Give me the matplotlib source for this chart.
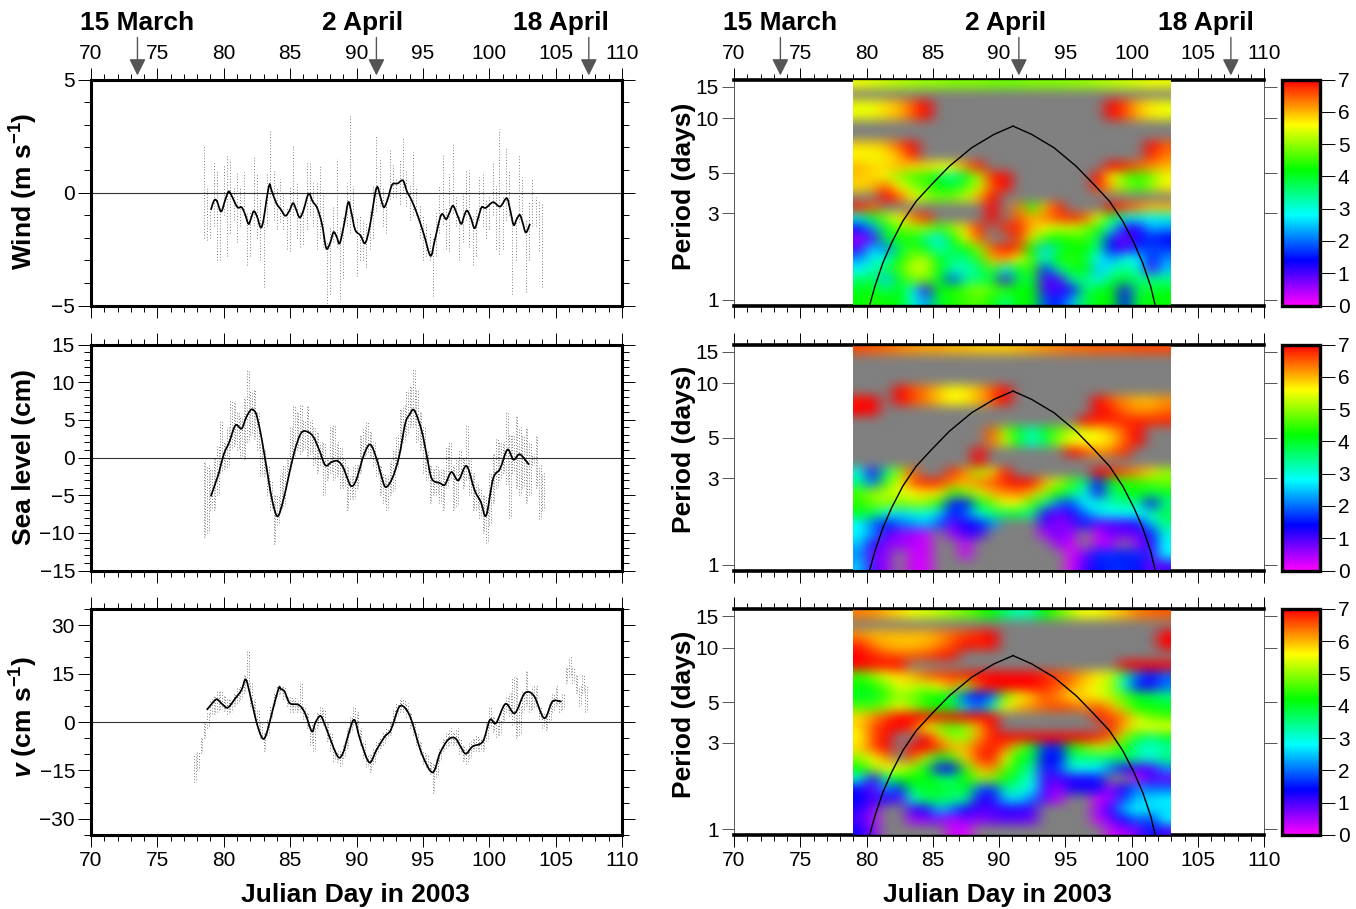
# -*- coding: utf-8 -*-
"""
Wind, sea level and v series with their wavelet spectra, 2003.
"""

import matplotlib

matplotlib.use("Agg")
import matplotlib.pyplot as plt
import numpy as np
from matplotlib.colors import LinearSegmentedColormap, Normalize
from matplotlib.patches import PathPatch
from matplotlib.path import Path
from matplotlib.ticker import FixedLocator, MultipleLocator

n = np.nan

################## Data ##################

wind_line_days = [79.03, 79.2, 79.34, 79.5, 79.8, 80.1, 80.3, 80.42, 80.6, 81.03, 81.34, 81.6, 81.86, 82.05, 82.26, 82.5, 82.79,
                  83.0, 83.2, 83.44, 83.6, 83.96, 84.3, 84.64, 84.95, 85.22, 85.45, 85.72, 86.0, 86.39, 86.7, 87.04, 87.4,
                  87.72, 88.0, 88.27, 88.5, 88.74, 89.1, 89.38, 89.6, 89.9, 90.3, 90.65, 91.0, 91.5, 91.8, 92.06, 92.35,
                  92.68, 93.1, 93.5, 93.8, 94.13, 94.6, 95.1, 95.58, 95.9, 96.38, 96.75, 97.0, 97.27, 97.6, 97.89, 98.1,
                  98.32, 98.6, 98.9, 99.2, 99.43, 99.74, 100.29, 100.82, 101.31, 101.55, 101.83, 102.05, 102.3, 102.5, 102.76, 103.07]
wind_line = [-0.77, -0.45, -0.32, -0.4, -0.84, -0.35, -0.02, 0.04, -0.15, -0.65, -0.65, -0.95, -1.39, -1.15, -0.83, -1.05, -1.55,
             -1.2, -0.4, 0.34, 0.1, -0.47, -0.75, -1.03, -0.8, -0.47, -0.75, -1.11, -0.8, -0.06, -0.4, -0.69, -1.4,
             -2.46, -2.25, -1.76, -1.95, -2.24, -1.3, -0.43, -0.85, -1.65, -1.9, -2.24, -1.5, 0.19, -0.2, -0.65, -0.3,
             0.34, 0.4, 0.53, 0.05, -0.32, -1.0, -1.9, -2.8, -2.1, -0.99, -1.18, -0.9, -0.59, -1.0, -1.39, -1.05,
             -0.8, -1.1, -1.58, -1.05, -0.65, -0.68, -0.43, -0.62, -0.25, -0.7, -1.43, -1.2, -0.99, -1.3, -1.77, -1.39]

sea_line_days = [79.03, 79.4, 79.65, 80.0, 80.42, 80.88, 81.34, 81.65, 81.9, 82.11, 82.35, 82.52, 82.88, 83.34, 83.65, 84.05, 84.48,
                 84.88, 85.35, 85.8, 86.2, 86.73, 87.2, 87.66, 88.12, 88.58, 88.98, 89.3, 89.6, 89.97, 90.59, 91.05, 91.51,
                 91.85, 92.19, 92.68, 93.2, 93.67, 94.0, 94.35, 94.9, 95.3, 95.67, 96.29, 96.66, 97.15, 97.67, 98.29, 98.9,
                 99.37, 99.77, 100.29, 100.82, 101.37, 101.83, 102.3, 103.0]
sea_line = [-5.16, -3.26, -1.93, 0.42, 2.06, 4.28, 3.83, 5.16, 6.0, 6.4, 6.1, 5.3, 2.28, -2.59, -5.69, -7.82, -5.69,
            -2.59, 0.95, 3.17, 3.48, 2.81, 0.95, -1.04, -0.6, -0.47, -1.26, -2.7, -3.79, -3.03, 0.51, 1.71, -0.16,
            -2.3, -3.92, -2.81, 0.07, 4.5, 5.7, 6.27, 3.61, 0.2, -2.81, -3.39, -3.61, -1.93, -3.03, -1.13, -4.36,
            -5.91, -7.69, -2.81, -1.48, 1.04, -0.29, 0.42, -0.95]

v_line_days = [78.72, 79.03, 79.3, 79.49, 79.7, 79.95, 80.32, 80.88, 81.34, 81.65, 81.96, 82.42, 82.8, 83.04, 83.25, 83.5, 84.11,
               84.3, 84.58, 84.98, 85.65, 86.12, 86.64, 86.9, 87.26, 87.5, 87.81, 88.58, 88.98, 89.35, 89.82, 90.28, 90.96,
               91.51, 92.13, 92.59, 93.2, 93.67, 94.13, 94.9, 95.73, 96.29, 96.9, 97.43, 97.83, 98.23, 98.75, 99.52, 100.05,
               100.51, 101.22, 101.93, 102.67, 103.37, 104.14, 104.76, 105.44]
v_line = [3.76, 5.3, 6.6, 7.05, 6.3, 5.3, 4.48, 7.36, 9.93, 13.2, 8.9, 0.67, -4.2, -5.2, -3.2, 0.67, 10.14,
          10.2, 9.42, 5.81, 5.3, 2.73, -2.93, -0.2, 1.9, 0.4, -2.93, -10.65, -9.62, -4.48, 0.67, -5.5, -12.5,
          -8.6, -4.48, -2.42, 4.58, 4.27, 0.67, -9.62, -15.6, -9.62, -5.5, -5.0, -7.56, -9.83, -7.56, -6.02, 0.67,
          -0.36, 5.6, 2.73, 8.9, 8.08, 1.18, 6.33, 6.33]

# (low, high) of the hourly dots in each quarter of a day
wind_start = 78.5
wind_dots = [(-2.0, 2.1), (-2.1, 0.3), (-2.0, -0.8), (-1.5, 1.4), (-3.0, 1.0), (-3.0, -0.6), (-1.0, 1.2), (-2.8, 1.6), (-1.8, 1.5),
             (-1.2, 0.3), (-2.2, 0.9), (-1.5, 0.2), (-1.0, 0.9), (-3.2, -0.8), (-2.8, -0.8), (-1.5, 1.6), (-2.0, 0.8), (-3.0, -0.3),
             (-4.2, -1.2), (-1.5, 0.8), (-0.2, 2.7), (-1.2, 1.0), (-1.6, 0.2), (-1.3, 0.6), (-1.6, 0.0), (-2.5, -0.7), (-2.6, 0.3),
             (-1.0, 2.1), (-2.0, 0.4), (-2.4, -0.8), (-2.3, -0.6), (-1.6, 1.3), (-1.0, 1.3), (-1.5, 0.4), (-2.5, 0.5), (-2.0, 1.2),
             (-2.4, 0.1), (-5.0, -2.2), (-4.5, -1.5), (-2.2, -0.6), (-2.4, 1.5), (-4.7, -1.5), (-3.8, -1.1), (-1.5, 0.4), (-1.8, 3.4),
             (-1.5, 0.3), (-3.7, -1.1), (-3.0, -1.0), (-3.0, -1.2), (-3.3, -1.3), (-2.5, -0.8), (-2.0, 0.3), (-0.8, 2.5), (-0.6, 1.5),
             (-1.5, 0.2), (-1.8, -0.2), (-0.3, 1.9), (-0.2, 1.3), (-0.2, 0.7), (-0.5, 1.5), (0.0, 2.4), (-0.6, 1.0), (-1.2, 0.4),
             (-1.0, 1.8), (-1.0, 0.2), (-2.0, -0.5), (-3.0, -1.0), (-2.8, -1.3), (-3.0, -1.8), (-4.6, -2.0), (-2.8, -0.8), (-1.8, 0.3),
             (-1.4, 1.7), (-2.5, -0.7), (-2.6, 0.8), (-0.9, 2.2), (-1.5, -0.2), (-3.0, -1.0), (-2.2, 0.0), (-1.2, 1.0), (-2.4, 1.0),
             (-3.2, -1.0), (-2.8, -0.7), (-1.2, 0.7), (-1.5, 0.9), (-2.0, -0.3), (-1.6, -0.2), (-1.0, 1.4), (-2.5, 0.3), (-2.7, 2.8),
             (-2.5, -0.1), (-1.2, 2.0), (-1.0, 1.0), (-4.5, -1.0), (-3.0, -1.0), (-1.3, 1.6), (-1.2, 0.7), (-4.4, -1.2), (-3.0, -0.4),
             (-1.5, 0.6), (-1.5, -0.2), (-2.6, -0.4), (-4.2, -0.4)]

sea_start = 78.5
sea_dots = [(-10.5, -0.5), (-10, -1), (-7, -1.5), (-7, 0), (-5, 1.5), (-2, 5), (-1.5, 2), (-1.3, 4), (1, 7.5), (1.5, 7.5), (1, 6),
            (0, 5.5), (-0.2, 8), (2, 11.7), (3, 9), (2.5, 9), (1, 6), (-2.5, 2), (-2.5, 1), (-5, -1), (-7, -3), (-11.5, -5), (-9, -5),
            (-7, -2), (-6.5, -1), (-3, 0), (-1, 4), (0, 7), (1, 6), (0.5, 7), (1, 5), (0, 7), (0.5, 5), (-1, 4), (-2, 3.5), (-1, 2),
            (-5, 2), (-3, 0), (-2, 4), (-3, 4.5), (-2.5, 2), (-4, 1.5), (-4, 0), (-7, -1), (-5.5, -2.5), (-5.5, -1), (-4, -1), (-2, 3),
            (0, 4), (0.5, 4.8), (0, 3.5), (-1, 2), (-2.5, 0), (-5, -1), (-6, -2), (-7, -2.5), (-5, -0.5), (-4.5, 1), (-1.5, 3), (1, 6.5),
            (2, 7), (3, 9), (4, 9.5), (4, 11.7), (2, 9), (1, 6), (-2, 4), (-3, 1), (-6, -1), (-5, -1.5), (-5, -1), (-6, -1.5), (-7, -1.5),
            (-4, 1.5), (-3, 2), (-7, -1), (-6.5, 0), (-3, 1), (-4, 0), (-3, 4.5), (-5, 0), (-7, -2), (-7, -3.5), (-8, -4), (-10, -5),
            (-11.3, -5), (-9, -2), (-6, 0.5), (-4, 2.5), (-3, 2), (-2, 2), (-3.5, 6), (-8, 3), (-2, 3), (-4, 5.5), (-5, 4), (-4, 3), (-6, 4),
            (-5, 2), (-1, 0.5), (-4, 3), (-8.2, -1), (-7, -2)]

v_start = 77.75
v_dots = [(-18.5, -10), (-15, -9), (-9.5, -5), (-5, 0), (-2, 3), (2, 7), (2.5, 8), (3, 10), (4, 10), (3.5, 8), (2.5, 7), (3, 7), (5, 9),
          (6, 10.5), (7, 11), (9, 15), (11, 22), (5, 12), (2, 7), (-2, 4), (-5, 0), (-9, -3), (-4, 1), (1, 5), (5, 9), (8, 11.5), (9, 11.5),
          (7, 11), (5, 8), (3, 8), (3, 7.5), (3, 6.5), (3, 12), (1, 5), (-2, 3), (-7, -1), (-9, -2), (-2, 3), (0, 4.5), (-1, 4), (-6, 0),
          (-9, -3), (-12, -8), (-12.5, -9), (-13.5, -9), (-11, -7), (-8, -2), (-3, 2), (-1, 5), (-3, 3), (-7, -2), (-11, -6), (-14, -10),
          (-15.5, -10), (-13, -8), (-10, -6), (-8, -5), (-7, -3), (-5, -2), (-4, 0), (-1, 4), (2, 6), (3, 7.5), (3, 7), (1.5, 6), (-2, 3),
          (-4, 0), (-7, -3), (-10, -6), (-13, -9), (-14, -10), (-16, -12), (-22, -13), (-17, -11), (-12, -8), (-9, -5), (-8, -3), (-7, -2),
          (-7, -3), (-7, -2), (-10, -5), (-12, -7), (-13, -8), (-11, -6), (-9, -5), (-9, -4), (-9, -5), (-9, -5), (-6, 0), (-2, 5), (-3, 2),
          (-4.5, -1), (-4, 1), (0, 5), (3, 8), (2, 9), (-1, 14), (-5, 14), (-4, 5), (3, 10), (5, 16), (3, 9), (4, 11), (5, 11), (1, 5),
          (-2, 3), (-2.5, 2.5), (0, 6), (3, 9), (5, 11), (3, 7), (4, 9), (12, 17), (14, 20), (12, 17), (9, 15), (5, 11), (9, 15), (3, 11)]

# cone of influence
coi_left_days = [80.23, 80.63, 81.23, 81.9, 82.74, 83.75, 84.92, 86.26, 87.94, 89.62, 91.06]
coi_left_period = [0.927, 1.18, 1.59, 2.06, 2.71, 3.49, 4.32, 5.45, 6.89, 8.16, 9.07]
coi_right_days = [91.06, 92.47, 94.15, 95.82, 97.16, 98.34, 99.34, 100.18, 100.85, 101.45, 101.79]
coi_right_period = [9.07, 8.16, 6.89, 5.45, 4.32, 3.49, 2.71, 2.06, 1.59, 1.18, 0.927]

# spectra: 22 rows from the longest period down, 24 columns from day 79 to 103
wind_spec = [
    [5.5, 5.4, 5.3, 5.2, 5.1, 5.0, 5.0, 4.9, 4.9, 4.9, 4.8, 4.8, 4.8, 4.9, 4.9, 4.9, 5.0, 5.0, 5.1, 5.2, 5.3, 5.4, 5.5, 5.5],
    [n] * 24,
    [5.5, 5.5, 5.8, 6, 6.5, 7] + [n] * 13 + [7, 6.6, 6, 5.7, 5.5],
    [5.5, 5.5, 5.8, 6, 6.5, 7] + [n] * 13 + [7, 6.6, 6, 5.7, 5.5],
    [n] * 24,
    [n] * 24,
    [5.8, 5.8, 6, 6.5, 7] + [n] * 17 + [7, 6.5],
    [5.6, 5.5, 5.7, 6, 6.8] + [n] * 17 + [6.8, 6.3],
    [6, 5.8, 5.8, 6, 5.8, 5.8, 5.6, 5.5, 6.2, 6.9] + [n] * 9 + [7, 6.8, 6.5, 6.2, 6],
    [5.9, 5.8, 5.5, 5, 4.6, 4.4, 3.8, 3.3, 4, 5.2, 6.8, 7] + [n] * 6 + [7, 5.6, 4.8, 4.4, 4.8, 5.5],
    [5.8, 6, 6.5, 5.6, 5, 4.7, 4.2, 4, 4.6, 5.3, 6.5, 7] + [n] * 6 + [6.8, 6, 5, 4.5, 5, 5.7],
    [n, n, 7, 6.5, 5.6, 5, 4.8, 4.8, 5.3, 6, 7] + [n] * 13,
    [6.8, 6.5] + [n] * 8 + [7, n, 6.3, 4.4, 6, 6.8, n, n, n, 7, 6.6, 6.3, 6, 6],
    [3, 4, 5, 5.6, 6.3, 6.8, n, n, n, n, 7, n, 6.5, 6, 6.3, 6.6, 6.8, 6.5, 5.5, 4, 3, 3, 2.8, 3],
    [1.5, 2.3, 4, 4.8, 5, 5, 4.5, 5, 5.8, 6.8, n, 6.8, 6.8, 6, 5.5, 5.3, 5.3, 5, 4.4, 3, 1.2, 1.2, 2.4, 2.2],
    [0.5, 1, 3.8, 4.3, 4.3, 3.5, 2.7, 4.2, 5.5, 6.5, n, n, 6.7, 5.3, 4.5, 4.2, 4.5, 4.5, 3.8, 1.6, 0.7, 1.3, 1.6, 1.4],
    [1, 2.6, 2, 3.7, 4.5, 4, 3.2, 3.7, 4.2, 5, 6.5, 6.9, 6.6, 4.2, 2.5, 3.8, 4.2, 4.2, 3.4, 1.4, 0.9, 1.7, 1.8, 1.7],
    [2.2, 3, 3, 4.2, 5, 5.1, 4, 3.6, 3.4, 4.4, 6, 6.2, 5.5, 4.5, 3, 4.2, 4.5, 4, 2.8, 2.3, 3, 2.8, 1.5, 2.2],
    [2.8, 3.2, 3.8, 4.5, 5.3, 5.3, 4.2, 3.2, 3.2, 3.5, 4.5, 3, 4, 4.5, 1.6, 3.4, 4, 4.2, 2.5, 3, 3.5, 3, 1, 2.5],
    [3.6, 3.8, 2.5, 4, 4.8, 4.8, 4, 1.8, 3.4, 3.6, 4, 1, 3.8, 4, 1, 1, 3.4, 3.6, 2.7, 3.8, 4, 3.6, 3.4, 3.5],
    [4, 4.2, 3.5, 4.2, 3, 1, 4.2, 4.3, 4.6, 5, 4.6, 4.4, 4.2, 4.2, 1, 1, 1.3, 3.6, 4, 4.2, 1.2, 3.8, 4, 4],
    [4.2, 4.4, 4.2, 4.2, 3, 2.2, 4, 4.3, 4.5, 4.6, 4.3, 3.5, 4.2, 4.2, 1.8, 1.5, 2.4, 3.8, 4.2, 4.2, 1.5, 4, 4.2, 4.2],
]

sea_spec = [
    [6.6, 6.5, 6.4, 6.3, 6.2, 6.1, 6.1, 6.0, 6.0, 5.9, 5.9, 5.9, 6.0, 6.1, 6.2, 6.3, 6.4, 6.4, 6.5, 6.5, 6.5, 6.6, 6.6, 6.6],
    [n] * 24,
    [n] * 24,
    [n] * 24,
    [n, n, n, 7, 6.6, 6.3, 5.9, 5.6, 5.7, 6, 6.5, 7] + [n] * 12,
    [6.9, 7, n, 7, 6.6, 6.3, 5.9, 5.6, 5.7, 6, 6.5, 7] + [n] * 6 + [7, 6.5, 6.2, 6, 6, 6.2],
    [7, 7] + [n] * 16 + [7, 6.8, 6.4, 6.2, 6.2, 6.4],
    [n] * 17 + [7, 6.8, 6.8, 6.8, 6.8, 6.8, 6.8],
    [n] * 10 + [6.5, 5, 4, 3.2, 4, 4.7, 5.2, 5.4, 5.7, 6, 6.5, 7, n, n],
    [n] * 10 + [6.4, 5.3, 4, 3, 3.8, 5, 5.6, 5.6, 5.6, 5.8, 6.5, 7, n, n],
    [n] * 9 + [7] + [n] * 6 + [7, 6.6, 6.2, 6.4, 6.8, n, n, n],
    [n] * 9 + [7] + [n] * 14,
    [3, 1.2, 3.5, 5, 6.5, n, n, 6.8, 6.2, 5, 5.8, 6.9, n, n, n, n, n, n, 7, 6.8, 6.5, 6.2, 5.8, 5],
    [3.5, 2, 4.5, 5.5, 6.5, 6.8, 6.8, 6.2, 6, 6.3, 6.5, 6.8, 7, 6.9, 6, 5.2, 4.5, 3.5, 1.5, 4, 4.4, 4.5, 4.6, 4.8],
    [4.6, 5, 5.2, 5.4, 5.6, 5.8, 5.7, 4.5, 4.8, 5.3, 6, 6.2, 6.3, 6, 5, 4.3, 3.5, 3, 1.2, 3.5, 4, 4.2, 3.8, 4],
    [4.4, 4.8, 5, 4.8, 5, 5, 4.4, 1.6, 1.5, 4, 4.8, 5.6, 5.5, 4.6, 3.5, 2, 1.8, 2.8, 3, 3.2, 3.4, 3.4, 1.3, 3.5],
    [4, 3.8, 3, 2.6, 3, 3, 2.6, 1.5, 2, 3, 3.5, 3.8, 3.8, 3.4, 1.2, 0.8, 1.2, 2, 2.6, 2.8, 2.8, 2.8, 3.2, 3.8],
    [2.8, 2, 1.5, 2, 2.2, 2.5, 1.8, 0.8, 1.3, 1.5, 2.2, n, n, n, 1, 0.6, 0.8, 1.5, 0.8, 1, 1, 1.3, 2.5, 3.5],
    [2.8, 2.2, 1, 0.6, 0.5, 0.3, n, 0.5, 1, 1, n, n, n, n, 0.4, 0.8, 0.5, n, 0.3, 0.8, 0.8, 0.8, 1.5, 3],
    [2.5, 1.2, 0.6, 0.6, 0.4, 0.3, n, n, 0.3, n, n, n, n, n, n, 0.5, 0.3, n, 0.4, 0.4, n, 0.5, 1.2, 2.8],
    [2.2, 0.8, 0.6, n, 0.3, 0.3, n, n, 0.3, n, n, n, n, n, n, n, 0.2, 0.7, 1.6, 1.7, 1.5, 1.7, 1, 2.8],
    [2.5, 1, 0.5, n, 0.3, 0.2, n, n, n, n, n, n, n, n, n, n, 0.2, 1, 1.5, 1.6, 1.6, 1.5, 0.8, 1],
]

v_spec = [
    [6.3, 6.2, 6, 5.8, 5.5, 5.4, 5.2, 5, 4.8, 4.5, 4.2, 3.6, 3.2, 3.4, 4.2, 4.7, 5.2, 5.6, 5.5, 5.8, 6, 6.3, 6.4, 6.5],
    [n] * 24,
    [6.2, 6, 6, 6, 6, 6, 6.2, 6.4, 6.6, 6.8, 7] + [n] * 12 + [7],
    [6.8, 6.3, 6, 5.9, 5.9, 6, 6.2, 6.6, 7, 6.8, 7] + [n] * 12 + [7],
    [7, 6.8, 6.6, 6.5, 6.5, 6.6, 6.8, 6.9] + [n] * 16,
    [7, 6.9, 6.9, 7] + [n] * 16 + [7, 7, 7, 7],
    [4.5, 5, 5.5, 5.8, 6, 6.4, 6.6, 6.7, 6.8, 7, 7, 7, 7, 7, 6.8, 6.6, 6.4, 6, 5.7, 5.3, 3.5, 2, 1.5, 2],
    [4.2, 4.3, 4.8, 5.5, 5.3, 5.2, 5.6, 6.2, 5, 6.5, 7, 7, 7, 7, 6.8, 6.5, 6.2, 5.8, 5.5, 5, 3, 1.5, 1.2, 2],
    [4, 4, 4.5, 5, 4.8, 4.3, 4.2, 3.8, 1.8, 1.4, 2, 4.8, 5.5, 6, 6.5, 6.2, 5.8, 5.8, 5.5, 5.2, 4.6, 4, 3.8, 3.6],
    [4.6, 4.6, 5, 5.5, 5, 4.5, 4.2, 4, 2.5, 2, 3.2, 5.5, 6, 6.2, 6.5, 6.6, 6.5, 6.3, 6.5, 6, 5, 4.2, 4.2, 4],
    [5.8, 6.2, 6.6, 7, 7, 7, 6.9, 6.9, 7, 7, 7] + [n] * 7 + [6.8, 6.6, 6.2, 5.3, 4.8, 4.6],
    [5.8, 6.5, 6.9, 7, 6.7, 5.5, 5, 4.5, 5, 6, 7] + [n] * 8 + [6.8, 6, 5.4, 5.5, 5.5],
    [5.6, 6.5, 7, n, n, 7, 6, 5, 5, 6.2, 6.8, 7, 7, 7, 7, 7, 7, 7, 6.8, 6.4, 5, 4, 3.5, 4],
    [5.8, 6.5, 7, n, 7, 7, 6.6, 6, 6, 6.6, 6.9, 6.4, 5, 4, 1.7, 1.6, 4.2, 4.8, 5.2, 5, 4.2, 3.2, 3, 3.3],
    [5, 5.6, 6.2, n, 6.5, 5.2, 4, 4.5, 5.8, 6.7, 6.9, 5.5, 4.2, 3.8, 1.4, 1.4, 3.4, 3.6, 3.6, 3.6, 3.8, 3.4, 3, 3.6],
    [4.2, 5, 5.5, 5.5, 5, 4, 1.2, 1.4, 4.5, 6, 6.3, 4.8, 4, 3.2, 1.2, 1.8, 3, 2.8, 2.8, 2, 1.2, 1, 1, 2.2],
    [3, 1.2, 3.5, 4.2, 4.2, 4.2, 3.8, 3.6, 4.2, 5, 5, 4.2, 3.6, 3, 1, 1, 1.2, 1.2, 1.5, n, n, 0.3, 1, 0.8],
    [1.3, 0.8, 2.2, 1.6, 3.8, 4, 4, 3.8, 4, 2, 1.6, 3.4, 3.2, 2.8, 1, 0.5, 1.3, 1.3, 1.3, 0.5, 1.4, 2.2, 2, 2],
    [1.4, 1, 1.2, 0.9, 3, 3.8, 3.8, 3.5, 3.4, 1.2, 1.2, 2.5, 2.6, 2, 0.8, 0.4, n, n, 0.2, 0.6, 1.8, 2.5, 2.6, 2.8],
    [1.2, 0.6, n, n, 1, 1.3, 2.5, 2, 1.3, 1, 1, 1.2, 1.2, 1, n, n, n, n, 0.5, 1.2, 2.5, 2.8, 2.6, 2.6],
    [1, 0.4, n, n, 0.5, 0.6, 0.7, 0.4, 0.7, 0.6, 0.8, 0.9, 0.9, 0.8, n, n, n, n, 0.3, 0.8, 1.4, 2, 1.7, 2.8],
    [1.3, 0.6, n, n, n, n, n, 0.3, 0.2, n, n, n, n, n, n, n, n, n, n, 0.3, 0.5, 0.8, 1.5, 1],
]

panel_labels = ["Wind (m s$^{\\mathbf{-1}}$)", "Sea level (cm)", "$\\mathit{v}$ (cm s$^{\\mathbf{-1}}$)"]
period_ticks = [1, 3, 5, 10, 15]
arrow_days = [73.5, 91.5, 107.5]
arrow_names = ["15 March", "2 April", "18 April"]

################## Figure ##################

plt.rcParams["font.family"] = ["Liberation Sans"]
plt.rcParams["mathtext.fontset"] = "custom"
plt.rcParams["mathtext.rm"] = "Liberation Sans:bold"
plt.rcParams["mathtext.bf"] = "Liberation Sans:bold"
plt.rcParams["mathtext.it"] = "Liberation Sans:italic:bold"

W, H = 1356, 909
fig = plt.figure(figsize=(W / 100, H / 100), dpi=100)

rows_px = [(79.5, 305.5), (344.5, 570.5), (609, 835)]
left_px = (91, 622)
right_px = (734, 1264)
cbar_px = (1282, 1320)

TICK_SIZE = 15
BOLD_SIZE = 19

rainbow = LinearSegmentedColormap.from_list(
    "rainbow7", ["#ff00ff", "#0000ff", "#00ffff", "#00ff00", "#ffff00", "#ff0000"], N=512
)
rainbow.set_bad("#808080")
norm = Normalize(0, 7)


def new_axes(xpx, ypx):
    return fig.add_axes([xpx[0] / W, 1 - ypx[1] / H, (xpx[1] - xpx[0]) / W, (ypx[1] - ypx[0]) / H])


def x_axis(ax, row):
    ax.set_xlim(70, 110)
    ax.xaxis.set_major_locator(MultipleLocator(5))
    ax.xaxis.set_minor_locator(MultipleLocator(1))
    ax.tick_params(axis="x", which="major", direction="out", length=8.6, width=0.7, top=True, bottom=True,
                   labeltop=row == 0, labelbottom=row == 2, labelsize=TICK_SIZE, pad=3)
    ax.tick_params(axis="x", which="minor", direction="out", length=4.6, width=0.7, top=True, bottom=True)


def arrows(ax):
    for day in arrow_days:
        ax.annotate("", xy=(day, 1.018), xycoords=ax.get_xaxis_transform(),
                    xytext=(day, 1.186), textcoords=ax.get_xaxis_transform(), annotation_clip=False,
                    arrowprops=dict(arrowstyle="-|>,head_length=0.72,head_width=0.36", mutation_scale=14,
                                    color="#555555", lw=1.0, shrinkA=0, shrinkB=0))


def top_names(xs):
    for x, name in zip(xs, arrow_names):
        fig.text(x / W, 1 - 23 / H, name, ha="center", va="center", fontsize=BOLD_SIZE, fontweight="bold")


def curve(ax, xs, ys, **kw):
    # round the corners between the points
    pts = np.column_stack([xs, ys])
    grad = np.gradient(pts, axis=0)
    verts = [pts[0]]
    codes = [Path.MOVETO]
    for i in range(len(pts) - 1):
        verts += [pts[i] + grad[i] / 3, pts[i + 1] - grad[i + 1] / 3, pts[i + 1]]
        codes += [Path.CURVE4, Path.CURVE4, Path.CURVE4]
    ax.add_patch(PathPatch(Path(verts, codes), fill=False, **kw))


series = [
    (wind_start, wind_dots, wind_line_days, wind_line, 5, 5, 1, 1),
    (sea_start, sea_dots, sea_line_days, sea_line, 15, 5, 1, 2),
    (v_start, v_dots, v_line_days, v_line, 35, 15, 5, 2),
]
left_label_y = [191, 457, 717]

for row, (start, dots, line_days, line, ylim, major, minor, columns) in enumerate(series):
    ax = new_axes(left_px, rows_px[row])
    x_axis(ax, row)
    ax.set_ylim(-ylim, ylim)
    ax.yaxis.set_major_locator(MultipleLocator(major))
    ax.yaxis.set_minor_locator(MultipleLocator(minor))
    ax.tick_params(axis="y", which="major", direction="out", length=9.5, width=0.7, left=True, right=True,
                   labelsize=TICK_SIZE, pad=2)
    ax.tick_params(axis="y", which="minor", direction="out", length=5, width=0.7, left=True, right=True)
    for spine in ax.spines.values():
        spine.set_linewidth(2.2)

    low, high = np.array(dots).T
    days = start + 0.25 * np.arange(len(low))
    for k in range(columns):
        ax.vlines(days + 0.125 * k, low, high, colors="#555555", linewidth=0.6,
                  linestyles=(0.8 * k, (1.0, 2.4)))
    ax.axhline(0, color="#333333", lw=0.8)
    curve(ax, line_days, line, edgecolor="black", lw=1.25, zorder=4)

    fig.text(24 / W, 1 - left_label_y[row] / H, panel_labels[row], rotation=90, ha="center", va="center",
             fontsize=BOLD_SIZE, fontweight="bold")
    if row == 0:
        arrows(ax)
    if row == 2:
        fig.text(355 / W, 1 - 895 / H, "Julian Day in 2003", ha="center", va="center",
                 fontsize=BOLD_SIZE, fontweight="bold")

top_names([137.5, 363, 561])

specs = [wind_spec, sea_spec, v_spec]
right_label_y = [186, 449, 714]
ymin, ymax = np.log10(0.927), np.log10(16.4)

for row, spec in enumerate(specs):
    ax = new_axes(right_px, rows_px[row])
    x_axis(ax, row)
    ax.set_ylim(ymin, ymax)
    ax.yaxis.set_major_locator(FixedLocator(np.log10(period_ticks)))
    ax.set_yticklabels([str(p) for p in period_ticks])
    ax.tick_params(axis="y", which="major", direction="out", length=9, width=0.7, color="#555555", left=True,
                   right=True, labelsize=TICK_SIZE, pad=2)
    ax.spines["top"].set_linewidth(2.6)
    ax.spines["bottom"].set_linewidth(2.6)
    ax.spines["left"].set_linewidth(0.7)
    ax.spines["right"].set_linewidth(0.7)
    ax.spines["left"].set_color("#555555")
    ax.spines["right"].set_color("#555555")

    im = ax.imshow(np.ma.masked_invalid(np.array(spec, dtype=float)), cmap=rainbow, norm=norm, aspect="auto",
                   extent=(79, 103, ymin, ymax), interpolation="bicubic", interpolation_stage="rgba", zorder=3)
    ax.set_xlim(70, 110)
    ax.set_ylim(ymin, ymax)
    ax.hlines([ymin, ymax], 79, 103, colors="black", lw=1.0, zorder=4, clip_on=False)
    ax.plot(coi_left_days, np.log10(coi_left_period), color="black", lw=1.0, zorder=5, clip_on=False)
    ax.plot(coi_right_days, np.log10(coi_right_period), color="black", lw=1.0, zorder=5, clip_on=False)

    fig.text(684 / W, 1 - right_label_y[row] / H, "Period (days)", rotation=90, ha="center", va="center",
             fontsize=BOLD_SIZE, fontweight="bold")

    cax = new_axes(cbar_px, rows_px[row])
    cb = fig.colorbar(im, cax=cax, ticks=range(8))
    cb.outline.set_linewidth(2.4)
    cb.ax.tick_params(length=10.8, width=0.7, labelsize=TICK_SIZE, pad=2)

    if row == 0:
        arrows(ax)
    if row == 2:
        fig.text(997 / W, 1 - 895 / H, "Julian Day in 2003", ha="center", va="center",
                 fontsize=BOLD_SIZE, fontweight="bold")

top_names([780, 1006, 1206])

fig.savefig("out.png", dpi=100)
